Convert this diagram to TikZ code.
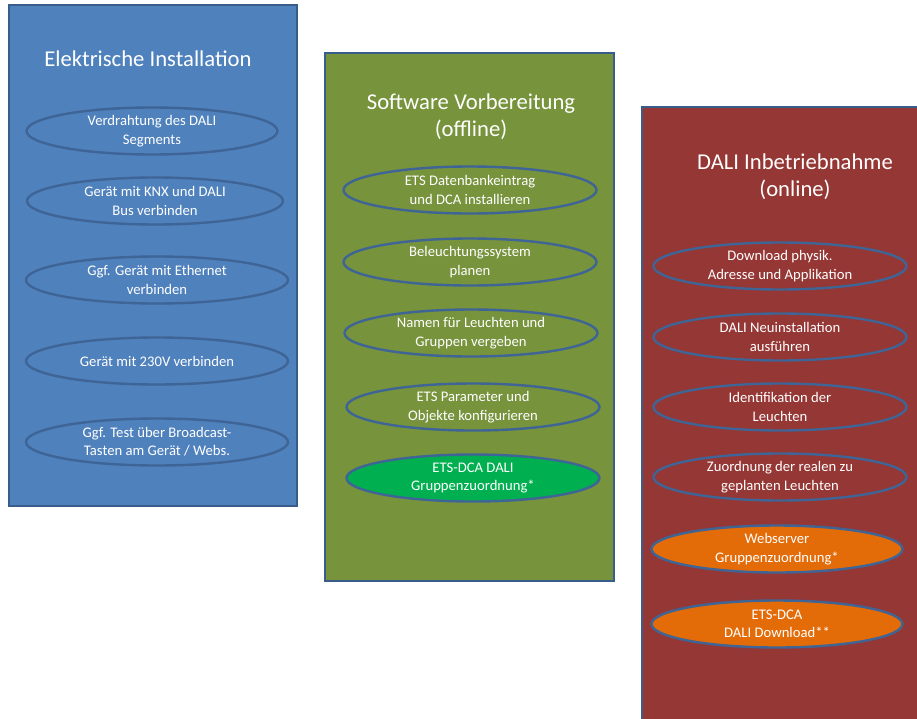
\documentclass[tikz,border=0pt]{standalone}
\usepackage{fontspec}
\setmainfont{Carlito}
\usetikzlibrary{shapes.geometric}
\definecolor{bluefill}{HTML}{4F81BD}
\definecolor{boxborder}{HTML}{385D8A}
\definecolor{greenfill}{HTML}{77933C}
\definecolor{redfill}{HTML}{953735}
\definecolor{brightgreen}{HTML}{00B050}
\definecolor{orangefill}{HTML}{E36C09}
\definecolor{ellborder}{HTML}{3F6496}
\tikzset{
  column/.style={draw=boxborder, line width=1.8pt},
  coltitle/.style={text=white, font=\fontsize{17}{20.5}\selectfont, align=center, inner sep=0pt},
  stepell/.style={ellipse, draw=ellborder, line width=1.8pt, text=white,
    font=\fontsize{11}{13.8}\selectfont, align=center, inner sep=0pt,
    minimum width=#1*0.75pt, minimum height=47*0.75pt},
  stepell/.default=252
}
\begin{document}
\begin{tikzpicture}[x=0.75pt,y=-0.75pt]
\useasboundingbox (0,0) rectangle (917,718);
\clip (0,0) rectangle (917,718);
\fill[white] (0,0) rectangle (917,718);
% columns
\draw[column, fill=bluefill] (9,5) rectangle (297,506);
\draw[column, fill=greenfill] (325,53) rectangle (614,581);
\draw[column, fill=redfill] (642,107) rectangle (940,740);
% titles
\node[coltitle] (t1) at (148,59) {Elektrische Installation};
\node[coltitle] (t2) at (471,117) {Software Vorbereitung\\(offline)};
\node[coltitle] (t3) at (795,177) {DALI Inbetriebnahme\\(online)};
% blue column
\node[stepell=251] (b1) at (152,131) {Verdrahtung des DALI\\Segments};
\node[stepell=256] (b2) at (155,201) {Gerät mit KNX und DALI\\Bus verbinden};
\node[stepell=262] (b3) at (157,280) {Ggf. Gerät mit Ethernet\\verbinden};
\node[stepell=262] (b4) at (157,361) {Gerät mit 230V verbinden};
\node[stepell=262] (b5) at (157,442) {Ggf. Test über Broadcast-\\Tasten am Gerät / Webs.};
% green column
\node[stepell=253] (g1) at (470,190) {ETS Datenbankeintrag\\und DCA installieren};
\node[stepell=253] (g2) at (470,262) {Beleuchtungssystem\\planen};
\node[stepell=253] (g3) at (471,333) {Namen für Leuchten und\\Gruppen vergeben};
\node[stepell=253] (g4) at (473,407) {ETS Parameter und\\Objekte konfigurieren};
\node[stepell=253, fill=brightgreen] (g5) at (473,478) {ETS-DCA DALI\\Gruppenzuordnung*};
% red column
\node[stepell=253] (r1) at (780,266) {Download physik.\\Adresse und Applikation};
\node[stepell=253] (r2) at (780,337) {DALI Neuinstallation\\ausführen};
\node[stepell=253] (r3) at (780,407) {Identifikation der\\Leuchten};
\node[stepell=253] (r4) at (780,477) {Zuordnung der realen zu\\geplanten Leuchten};
\node[stepell=251, fill=orangefill] (r5) at (777,549) {Webserver\\Gruppenzuordnung*};
\node[stepell=251, fill=orangefill] (r6) at (777,624) {ETS-DCA\\DALI Download**};
\end{tikzpicture}
\end{document}
